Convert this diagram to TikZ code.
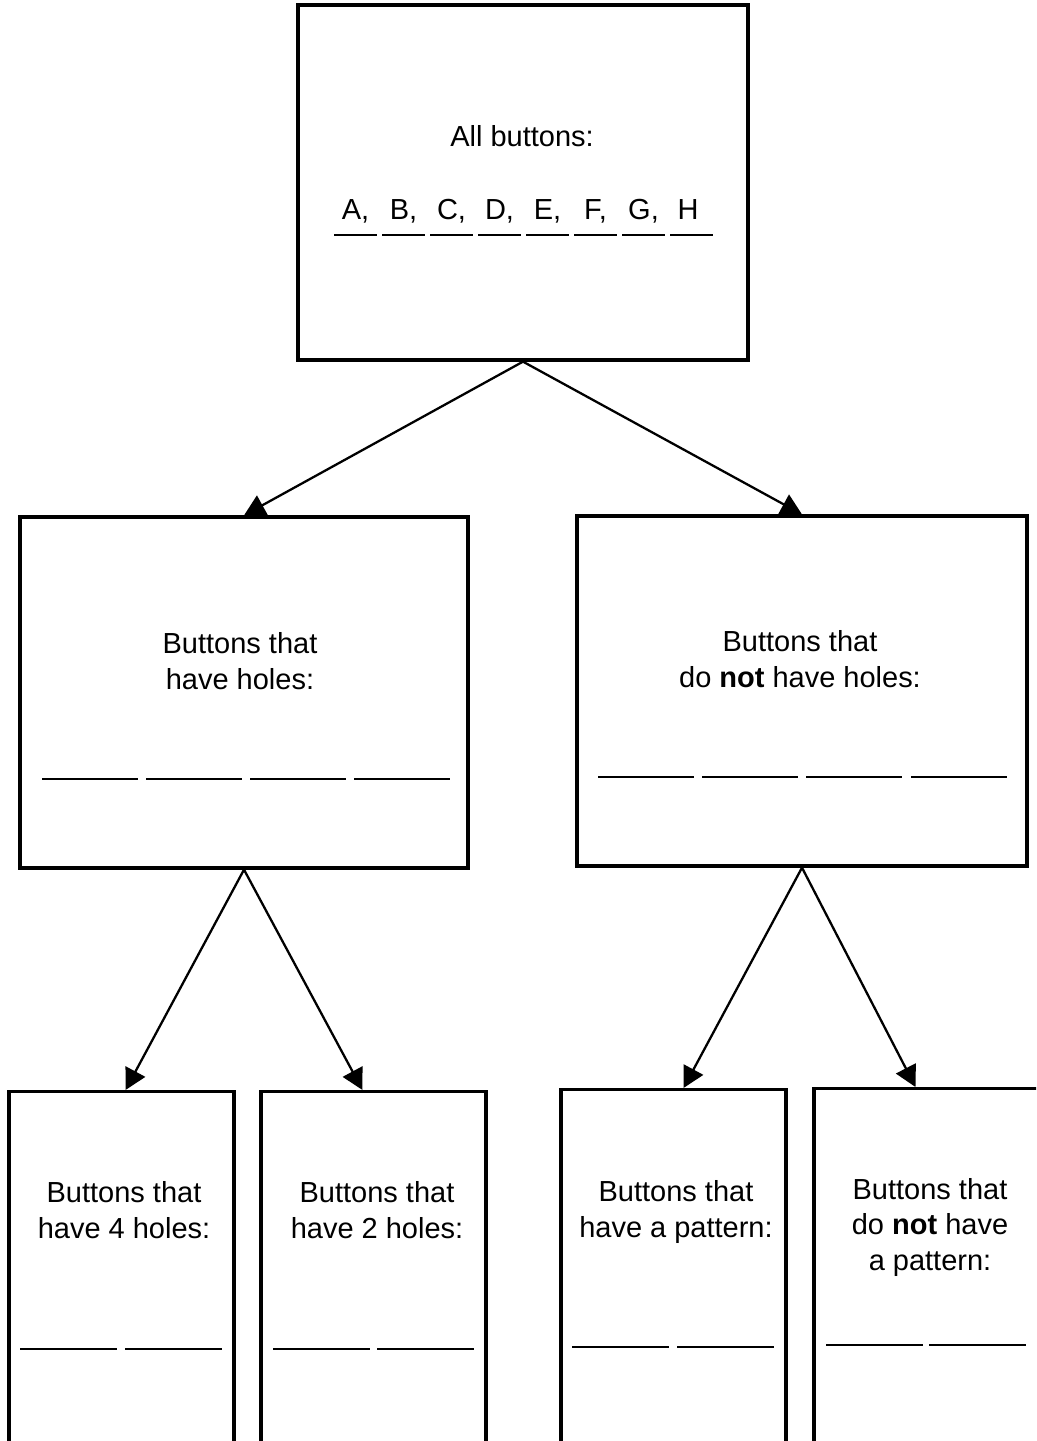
\documentclass[tikz,border=0pt]{standalone}
\usepackage{fontspec}
\setmainfont{Liberation Sans}
\usetikzlibrary{arrows.meta,calc}

\begin{document}
\begin{tikzpicture}[x=0.02cm, y=-0.02cm, every node/.style={font=\fontsize{16.5}{20}\selectfont}, box/.style={draw,line width=1.9pt,minimum width=4.5cm,minimum height=7.6cm,inner sep=0pt}, lab/.style={align=center,anchor=base}, blank/.style={line width=1.6pt}, link/.style={line width=1.3pt,-{Triangle[length=0.42cm,width=0.44cm]}}]
    \useasboundingbox (0,0) rectangle (1036,1441);
    \clip (0,0) rectangle (1036,1441);

    % sorting boxes
    \node[box, minimum width=9cm, minimum height=7.1cm] (all) at (523,182.5) {};
    \node[box, minimum width=8.96cm, minimum height=7.02cm] (holes) at (244,692.5) {};
    \node[box, minimum width=9cm, minimum height=7cm] (noholes) at (802,691) {};
    \node[box, anchor=north] (four) at (121.5,1090) {};
    \node[box, anchor=north] (two) at (373.5,1090) {};
    \node[box, anchor=north] (pat) at (673.5,1088) {};
    \node[box, anchor=north] (nopat) at (926.5,1087) {};

    % labels (base = last line)
    \node[lab] (tall) at (522,146) {All buttons:};
    \foreach \l [count=\i from 0] in {A,B,C,D,E,F,G}{
      \node[lab] at (355.5+48*\i,219) {\l,};
      \draw[blank] (334+48*\i,235) -- ++(43,0);
    }
    \node[lab] at (688,219) {H};
    \draw[blank] (670,235) -- ++(43,0);

    \node[lab] (tholes) at (240,689) {Buttons that\\have holes:};
    \node[lab] (tnoholes) at (800,687) {Buttons that\\do \textbf{not} have holes:};
    \node[lab] (tfour) at (124,1238) {Buttons that\\have 4 holes:};
    \node[lab] (ttwo) at (377,1238) {Buttons that\\have 2 holes:};
    \node[lab] (tpat) at (676,1237) {Buttons that\\have a pattern:};
    \node[lab] (tnopat) at (930,1270) {Buttons that\\do \textbf{not} have\\a pattern:};

    % blanks to write in
    \foreach \x in {42,146,250,354} \draw[blank] (\x,779) -- ++(96,0);
    \foreach \x in {598,702,806,911} \draw[blank] (\x,777) -- ++(96,0);
    \foreach \x in {20,125} \draw[blank] (\x,1349) -- ++(97,0);
    \foreach \x in {273,377} \draw[blank] (\x,1349) -- ++(97,0);
    \foreach \x in {572,677} \draw[blank] (\x,1347) -- ++(97,0);
    \foreach \x in {826,929} \draw[blank] (\x,1345) -- ++(97,0);

    % arrows
    \draw[link] (all.south) -- (holes.north);
    \draw[link] (all.south) -- (noholes.north);
    \draw[link] (holes.south) -- ($(four.north)+(4,0)$);
    \draw[link] (holes.south) -- ($(two.north)+(-11,0)$);
    \draw[link] (noholes.south) -- ($(pat.north)+(10,0)$);
    \draw[link] (noholes.south) -- ($(nopat.north)+(-11,0)$);
\end{tikzpicture}
\end{document}
